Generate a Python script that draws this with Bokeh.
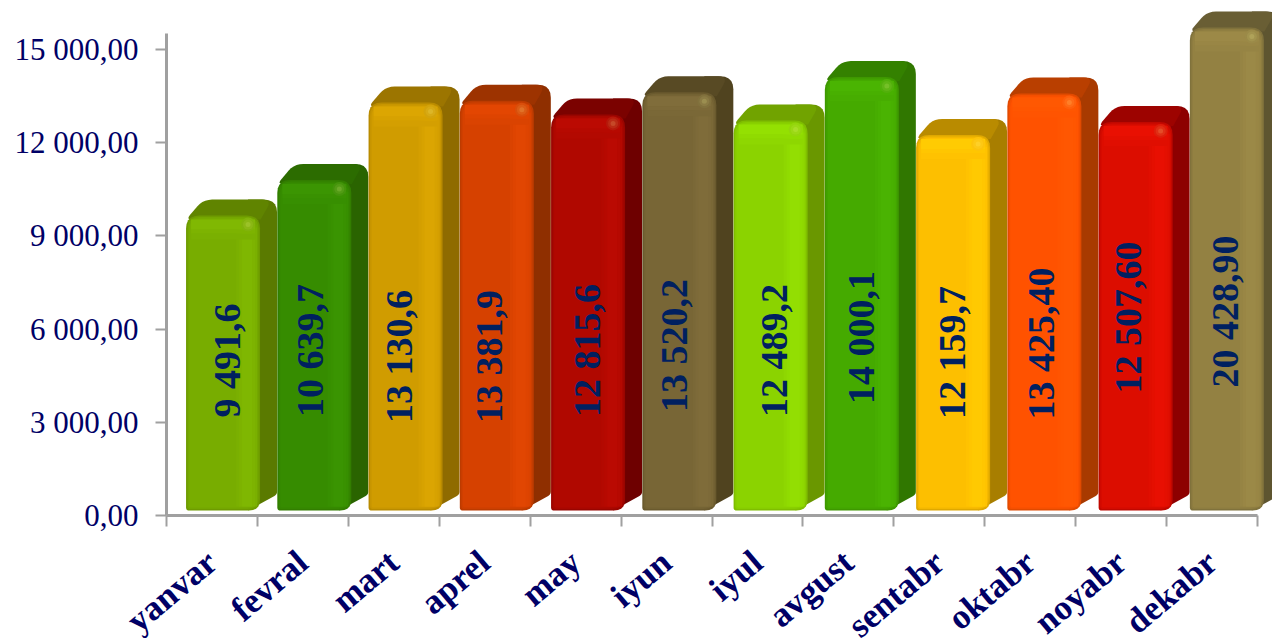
import numpy as np
from bokeh.embed import file_html
from bokeh.resources import INLINE
from bokeh.plotting import figure
from bokeh.models import Range1d, LinearAxis, FixedTicker
from bokeh.core.properties import value

months = ["yanvar", "fevral", "mart", "aprel", "may", "iyun", "iyul", "avgust", "sentabr", "oktabr", "noyabr", "dekabr"]
# bar heights (the December bar runs past the axis and is cut off)
amounts = [9491.6, 10639.7, 13130.6, 13190.0, 12750.0, 13460.0, 12550.0, 13950.0, 12090.0, 13425.40, 12507.60, 20428.90]
amount_labels = ["9 491,6", "10 639,7", "13 130,6", "13 381,9", "12 815,6", "13 520,2", "12 489,2", "14 000,1",
                 "12 159,7", "13 425,40", "12 507,60", "20 428,90"]
y_ticks = [0, 3000, 6000, 9000, 12000, 15000]
y_tick_labels = ["0,00", "3 000,00", "6 000,00", "9 000,00", "12 000,00", "15 000,00"]

front_colors = ["#78ad00", "#368c00", "#d09c00", "#d64100", "#b00800", "#786636",
                "#8bd300", "#45aa00", "#fdbf00", "#ff5200", "#dc0d00", "#938142"]
side_colors = ["#5a7a00", "#2a6400", "#8f6b00", "#8f2f00", "#6e0000", "#50431f",
               "#6a9700", "#307700", "#a87e00", "#a83a00", "#8d0000", "#5e5530"]
label_x = [0.66, 1.58, 2.56, 3.55, 4.63, 5.58, 6.68, 7.64, 8.64, 9.62, 10.57, 11.64]
label_y = [4989, 5310, 5117, 5117, 5310, 5471, 5310, 5729, 5246, 5536, 6373, 6566]

# layout constants
PX_X = 90.92
PX_Y = 0.03107
W, H = 1272, 638
FRAME_L, FRAME_B = 166, 123
X_MIN = -FRAME_L / PX_X
X_MAX = (W - FRAME_L) / PX_X
Y_MIN = -FRAME_B / PX_Y
Y_MAX = (H - FRAME_B) / PX_Y
CLIP = 15545
BASE = 160
LEFT0, STEP, BAR_W = 0.215, 1.0037, 74 / PX_X
DX, DY = 17 / PX_X, 16 / PX_Y
NAVY = "#000066"
SERIF = "Liberation Serif"


def hex2rgb(c):
    return np.array([int(c[k:k + 2], 16) for k in (1, 3, 5)], dtype=float)


def to_hex(v):
    return "#%02x%02x%02x" % tuple(int(round(x)) for x in np.clip(v, 0, 255))


def mix(a, b, t):
    return to_hex(hex2rgb(a) * (1 - t) + hex2rgb(b) * t)


def lift(c, k):
    return to_hex(hex2rgb(c) * k + (k - 1) * 40)


def rounded(points, radii, n=6):
    """Round polygon corners; points are in data units, radii in pixels."""
    pts = np.array(points, dtype=float) * [PX_X, PX_Y]
    out = []
    m = len(pts)
    for k in range(m):
        p_, a, b = pts[k], pts[k - 1], pts[(k + 1) % m]
        r = radii[k]
        if r <= 0:
            out.append(p_)
            continue
        u = (a - p_) / np.linalg.norm(a - p_)
        v = (b - p_) / np.linalg.norm(b - p_)
        s, e = p_ + u * r, p_ + v * r
        for t in np.linspace(0, 1, n):
            out.append((1 - t) ** 2 * s + 2 * t * (1 - t) * p_ + t ** 2 * e)
    out = np.array(out) / [PX_X, PX_Y]
    return out[:, 0], out[:, 1]


p = figure(width=W, height=H, output_backend="svg", toolbar_location=None,
           x_range=Range1d(X_MIN, X_MAX), y_range=Range1d(Y_MIN, Y_MAX),
           min_border_left=0, min_border_bottom=0, min_border_top=0, min_border_right=0,
           x_axis_type=None, y_axis_type=None)
p.outline_line_color = None
p.grid.visible = False

shown = np.minimum(amounts, CLIP)
lefts = LEFT0 + STEP * np.arange(12)
rights = lefts + BAR_W
tops = BASE + shown


def layer(polys, colors):
    p.patches([q[0] for q in polys], [q[1] for q in polys], fill_color=colors, line_color=None)


# depth faces
sides, roofs = [], []
for l, r, t in zip(lefts, rights, tops):
    sides.append(rounded([(r - 12 / PX_X, BASE), (r + DX, BASE + DY), (r + DX, t + DY), (r - 12 / PX_X, t + DY), (r - 12 / PX_X, t)],
                         [0, 3, 13, 0, 0]))
    roofs.append(rounded([(l, t - 4 / PX_Y), (l + DX, t + DY), (r + DX - 5 / PX_X, t + DY), (r + 0.5 / PX_X, t - 4 / PX_Y)],
                         [6, 9, 10, 0]))
layer(sides, side_colors)
layer(roofs, [mix(s, f, 0.2) for s, f in zip(side_colors, front_colors)])


def inset(d, rtop, rbot):
    polys = []
    for l, r, t in zip(lefts, rights, tops):
        dx, dy = d / PX_X, d / PX_Y
        polys.append(rounded([(l + dx, BASE + dy), (r - dx, BASE + dy), (r - dx, t - dy), (l + dx, t - dy)],
                             [rbot, rbot + 8, rtop, rtop]))
    return polys


# front face, built up from the edge inward
layer(inset(0, 13, 3), [mix(f, s, 0.35) for f, s in zip(front_colors, side_colors)])
layer(inset(1.5, 12, 3), [mix(f, s, 0.12) for f, s in zip(front_colors, side_colors)])
layer(inset(3, 11, 2), front_colors)

# lighter vertical band near the right edge
y0 = BASE + 4 / PX_Y
for (a, b, k) in [(24, 3, 1.015), (21, 5, 1.03), (18, 8, 1.045)]:
    p.quad(left=rights - a / PX_X, right=rights - b / PX_X, bottom=y0, top=tops - 12 / PX_Y,
           fill_color=[lift(f, k) for f in front_colors], line_color=None)
# lighter horizontal band near the top edge
for (a, b, k) in [(24, 18, 1.015), (18, 14, 1.03), (14, 4, 1.05)]:
    p.quad(left=lefts + 5 / PX_X, right=rights - 5 / PX_X, bottom=tops - a / PX_Y, top=tops - b / PX_Y,
           fill_color=[lift(f, k) for f in front_colors], line_color=None)
# specular spot
hx, hy = rights - 12 / PX_X, tops - 9 / PX_Y
for (size, t) in [(14, 0.07), (10, 0.14), (5, 0.26)]:
    p.scatter(hx, hy, size=size, fill_color=[mix(f, "#ffff99", t) for f in front_colors], line_color=None)

# value labels
p.text(label_x, label_y, text=amount_labels, angle=np.pi / 2, text_align="center", text_baseline="middle",
       text_color="#002060", text_font=value(SERIF), text_font_style="bold", text_font_size="38px")

# axes
GREY = "#a0a0a0"
ya = LinearAxis(ticker=FixedTicker(ticks=y_ticks), bounds=(0, 15513), fixed_location=0,
                major_label_overrides=dict(zip(y_ticks, y_tick_labels)))
ya.axis_line_color = GREY
ya.axis_line_width = 3
ya.major_tick_line_color = GREY
ya.major_tick_line_width = 2
ya.major_tick_out = 11
ya.major_tick_in = 0
ya.minor_tick_line_color = None
ya.major_label_standoff = 17
ya.major_label_text_font = SERIF
ya.major_label_text_font_size = "31px"
ya.major_label_text_color = NAVY
p.add_layout(ya, "left")

mid = [i + 0.5 for i in range(12)]
xa = LinearAxis(ticker=FixedTicker(ticks=mid, minor_ticks=list(range(13))), bounds=(0, 12), fixed_location=0,
                major_label_overrides=dict(zip(mid, months)))
xa.axis_line_color = GREY
xa.axis_line_width = 3
xa.major_tick_line_color = None
xa.minor_tick_line_color = GREY
xa.minor_tick_line_width = 2
xa.minor_tick_out = 11
xa.minor_tick_in = 0
xa.major_label_standoff = 31
xa.major_label_orientation = 0.7
xa.major_label_text_font = SERIF
xa.major_label_text_font_style = "bold"
xa.major_label_text_font_size = "35px"
xa.major_label_text_color = NAVY
p.add_layout(xa, "below")

open("out.html", "w").write(file_html(p, INLINE))
